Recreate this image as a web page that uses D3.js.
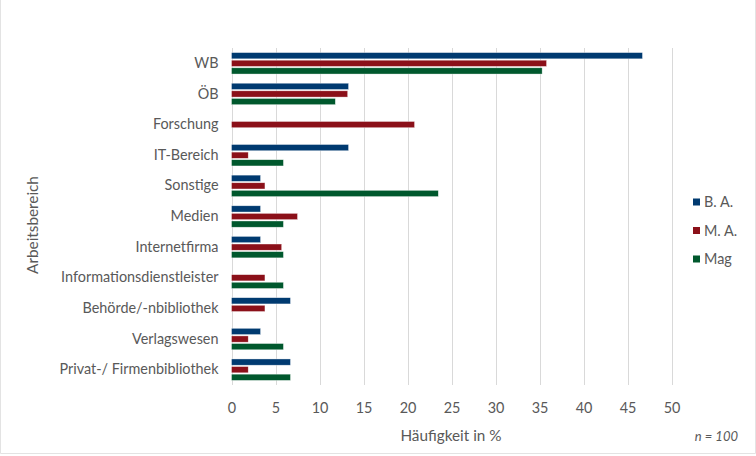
<!DOCTYPE html>
<html><head><meta charset="utf-8">
<script src="https://cdn.jsdelivr.net/npm/d3@7"></script>
<style>body{margin:0;background:#fff}svg{display:block}text{font-family:Lato,"Open Sans",sans-serif;fill:#595959}</style>
</head><body><div id="c"></div>
<script>
const categories = ["WB","ÖB","Forschung","IT-Bereich","Sonstige","Medien","Internetfirma","Informationsdienstleister","Behörde/-nbibliothek","Verlagswesen","Privat-/ Firmenbibliothek"];
const seriesNames = ["B. A.","M. A.","Mag"];
const seriesColors = ["#003a70","#8b1019","#00582d"];
const valuesBA  = [46.7,13.3,0,13.3,3.3,3.3,3.3,0,6.7,3.3,6.7];
const valuesMA  = [35.8,13.2,20.8,1.9,3.8,7.5,5.7,3.8,3.8,1.9,1.9];
const valuesMag = [35.3,11.8,0,5.9,23.5,5.9,5.9,5.9,0,5.9,6.7];
const xTicks = [0,5,10,15,20,25,30,35,40,45,50];
const seriesValues = [valuesBA, valuesMA, valuesMag];

(function(){
const W=756,H=456;
const svg=d3.select("#c").append("svg").attr("width",W).attr("height",H);
svg.append("path").attr("d",`M0.5,0 V453.5 H755.5 V0`).attr("fill","none").attr("stroke","#e3e3e3");

const pL=231.5, pR=671.5, pT=48, pB=385;
const x=d3.scaleLinear().domain([0,50]).range([pL,pR]);
const y0=d3.scaleBand().domain(categories).range([pT,pB]).paddingInner(0.3).paddingOuter(0.15);
const y1=d3.scaleBand().domain(seriesNames).range([0,y0.bandwidth()]).paddingInner(0.18);

svg.append("g").selectAll("line").data(xTicks).join("line")
  .attr("x1",d=>Math.round(x(d))+0.5).attr("x2",d=>Math.round(x(d))+0.5)
  .attr("y1",pT).attr("y2",pB).attr("stroke","#d9d9d9").attr("stroke-width",1);

const rows=[];
categories.forEach((c,i)=>seriesNames.forEach((s,j)=>rows.push({c,s,j,v:seriesValues[j][i]})));
svg.append("g").selectAll("rect").data(rows.filter(d=>d.v>0)).join("rect")
  .attr("x",x(0)).attr("y",d=>y0(d.c)+y1(d.s))
  .attr("width",d=>x(d.v)-x(0)).attr("height",y1.bandwidth())
  .attr("fill",d=>seriesColors[d.j]).attr("stroke","#ffffff").attr("stroke-opacity",0.6).attr("stroke-width",0.6);

const xa=d3.axisBottom(x).tickValues(xTicks).tickSize(0).tickPadding(0);
const gx=svg.append("g").attr("transform",`translate(0,${pB})`).call(xa);
gx.select(".domain").remove();
gx.selectAll("text").attr("y",28).attr("dy",0).style("font-size","14.4px").style("fill","#595959").style("font-family","Lato, sans-serif");

const ya=d3.axisLeft(y0).tickSize(0).tickPadding(13);
const gy=svg.append("g").attr("transform",`translate(${pL},0)`).call(ya);
gy.select(".domain").remove();
gy.selectAll("text").style("font-size","14.4px").style("fill","#595959").style("font-family","Lato, sans-serif").attr("dy","0.32em");

svg.append("text").attr("x",451).attr("y",441).attr("text-anchor","middle").style("font-size","15.3px").text("Häufigkeit in %");
svg.append("text").attr("transform","translate(38,225) rotate(-90)").attr("text-anchor","middle").style("font-size","15.3px").text("Arbeitsbereich");
svg.append("text").attr("x",738).attr("y",441).attr("text-anchor","end").style("font-size","13px").style("font-style","italic").text("n = 100");

const lg=svg.append("g").selectAll("g").data(seriesNames).join("g").attr("transform",(d,i)=>`translate(693,${202+i*28.5})`);
lg.append("rect").attr("x",0).attr("y",-3.5).attr("width",7).attr("height",7).attr("fill",(d,i)=>seriesColors[i]);
lg.append("text").attr("x",11).attr("y",0).attr("dy","0.35em").style("font-size","14.4px").text(d=>d);
})();
</script></body></html>
